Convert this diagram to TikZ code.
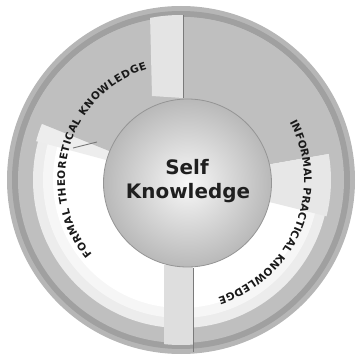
\documentclass[tikz,border=0pt]{standalone}
\usepackage{fontspec}
\newfontfamily\ballfont{DejaVu Sans}
\usetikzlibrary{decorations.text}
\newcommand\rtfont{\ballfont\bfseries\fontsize{10.5}{10.5}\selectfont\color{black!90}}
\definecolor{ringgray}{HTML}{BFBFBF}
\definecolor{lipgray}{HTML}{B6B6B6}
\definecolor{shadowgray}{HTML}{A0A0A0}
\definecolor{edgegray}{HTML}{7A7A7A}
\begin{document}
\begin{tikzpicture}[x=1bp,y=1bp,
  ringtext/.style={decorate, decoration={text along path, text align={fit to path}}},
  centertext/.style={font=\ballfont\bfseries\fontsize{20}{24}\selectfont, text=black!88, inner sep=0pt},
  divider/.style={draw=edgegray, line width=0.9bp}]
\useasboundingbox (0,0) rectangle (358,360);
\coordinate (c) at (181,180);
% outer disk, lip and shadow band
\fill[lipgray] (c) circle[radius=174];
\fill[shadowgray] (c) circle[radius=169];
\fill[ringgray] (c) circle[radius=163];
% groove (lit channel)
\fill[gray!15] (c) circle[radius=148];
\fill[gray!7] (c) circle[radius=138];
\fill[white] (c) circle[radius=128];
% raised top segment
\fill[gray!14] (c) -- ++(150:150) arc[start angle=150, end angle=165, radius=150] -- cycle;
\fill[ringgray] (c) -- ++(10:163) arc[start angle=10, end angle=158, radius=163] -- cycle;
\fill[gray!19] (c) -- ++(-14:150) arc[start angle=-14, end angle=10, radius=150] -- cycle;
\begin{scope}
  \clip (c) circle[radius=165];
  % lit face left of top divider
  \fill[gray!21] (150,346) -- (183,346) -- (183,262) -- (152,264) -- cycle;
  % face left of bottom divider
  \fill[gray!26] (164,95) -- (193,95) -- (193,10) -- (164,10) -- cycle;
\end{scope}
% dividers
\draw[divider] (183,345) -- (183,262);
\draw[divider] (193,92) -- (193,8);
\draw[divider] (73,212) -- (97,218);
% sphere
\shade[inner color=gray!6, outer color=gray!55] (187.5,177) circle[radius=84];
\draw[edgegray!80, line width=0.8bp] (187.5,177) circle[radius=84];
% centre text
\node[centertext, anchor=base] (self) at (187,186) {Self};
\node[centertext, anchor=base] (know) at (188,162) {Knowledge};
% ring texts
\path[ringtext, shift={(181,180)}, decoration={text={|\rtfont|FORMAL THEORETICAL KNOWLEDGE}}]
  (220:116) arc[start angle=220, end angle=107, radius=116];
\path[ringtext, shift={(181,180)}, decoration={text={|\rtfont|INFORMAL PRACTICAL KNOWLEDGE}}]
  (28:123) arc[start angle=28, end angle=-72.5, radius=123];
\end{tikzpicture}
\end{document}
